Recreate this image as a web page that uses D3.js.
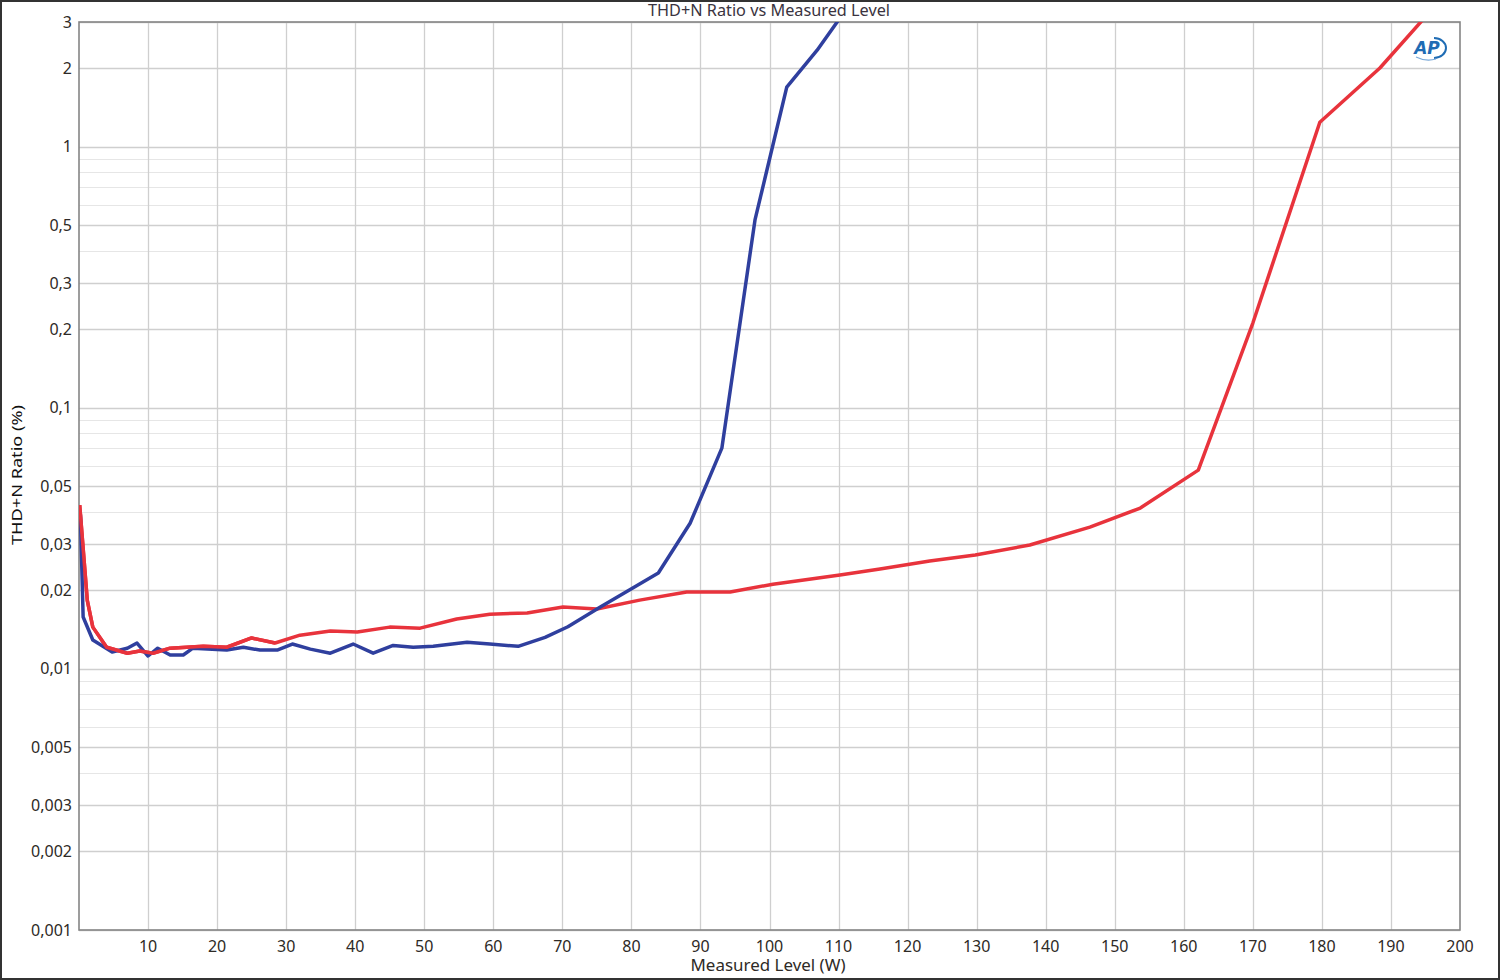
<!DOCTYPE html>
<html><head><meta charset="utf-8">
<script src="https://cdn.jsdelivr.net/npm/d3@7/dist/d3.min.js"></script>
<style>html,body{margin:0;padding:0;background:#fff}svg{display:block}</style>
</head><body>
<script>
// ---- data ----
const blueX = [0.2,0.6,2.0,4.8,7.0,8.4,10.0,11.4,13.2,15.1,16.5,21.4,23.8,26.2,28.7,30.9,33.5,36.4,39.7,42.6,45.5,48.4,51.3,56.2,59.5,63.6,67.5,70.8,75.5,80.2,83.9,88.5,93.1,97.9,102.5,106.9,109.8,111.5];
const blueY = [0.039,0.0158,0.0129,0.0116,0.0120,0.01256,0.0112,0.0120,0.0113,0.0113,0.0120,0.0118,0.0121,0.0118,0.0118,0.01245,0.0119,0.01148,0.01245,0.01148,0.0123,0.0121,0.0122,0.01265,0.01245,0.0122,0.0132,0.0145,0.01725,0.0204,0.0233,0.0361,0.070,0.524,1.69,2.34,3.0,3.5];
const redX = [0.1,1.2,2.0,4.0,7.0,8.8,10.7,13.2,18.0,21.4,25.0,28.4,32.0,36.4,40.3,45.0,49.4,54.7,59.5,64.9,70.1,75.0,81.2,88.0,94.3,100.5,110.2,116.0,123.2,129.8,137.7,146.4,153.7,162.1,170.0,179.7,188.4,194.8];
const redY = [0.0424,0.0183,0.01445,0.0121,0.01148,0.0117,0.01148,0.0120,0.0122,0.0121,0.01313,0.01256,0.01346,0.01397,0.01385,0.01445,0.01432,0.01552,0.0162,0.01636,0.01725,0.01695,0.01833,0.0197,0.0197,0.0211,0.0229,0.0241,0.0259,0.0273,0.0298,0.0349,0.0413,0.0577,0.211,1.24,2.0,3.1];
const xTicks = [10,20,30,40,50,60,70,80,90,100,110,120,130,140,150,160,170,180,190,200];
const yTicks = [3,2,1,0.5,0.3,0.2,0.1,0.05,0.03,0.02,0.01,0.005,0.003,0.002,0.001];
const yTickLabels = ["3","2","1","0,5","0,3","0,2","0,1","0,05","0,03","0,02","0,01","0,005","0,003","0,002","0,001"];
const yMinor = [0.9,0.8,0.7,0.6,0.4,0.09,0.08,0.07,0.06,0.04,0.009,0.008,0.007,0.006,0.004];
const title = "THD+N Ratio vs Measured Level";
const xLabel = "Measured Level (W)";
const yLabel = "THD+N Ratio (%)";

// ---- layout ----
const W = 1500, H = 980;
const L = 79, R = 1460, T = 22, B = 930;
const svg = d3.select("body").append("svg").attr("width", W).attr("height", H);
const font = "'Noto Sans', 'Open Sans', sans-serif";

const x = d3.scaleLinear().domain([0,200]).range([L,R]);
const y = d3.scaleLog().domain([0.001,3]).range([B,T]);

svg.append("rect").attr("x",1).attr("y",1).attr("width",W-2).attr("height",H-2)
  .attr("fill","#fff").attr("stroke","#333").attr("stroke-width",2);

// grid
const g = svg.append("g");
g.selectAll(".ymin").data(yMinor).join("line")
  .attr("x1",L).attr("x2",R).attr("y1",d=>Math.round(y(d))+0.5).attr("y2",d=>Math.round(y(d))+0.5)
  .attr("stroke","#e6e6e6").attr("stroke-width",1);
g.selectAll(".ymaj").data(yTicks).join("line")
  .attr("x1",L).attr("x2",R).attr("y1",d=>Math.round(y(d))+0.5).attr("y2",d=>Math.round(y(d))+0.5)
  .attr("stroke","#cfcfcf").attr("stroke-width",1.3);
g.selectAll(".xg").data(xTicks.slice(0,-1)).join("line")
  .attr("y1",T).attr("y2",B).attr("x1",d=>Math.round(x(d))+0.5).attr("x2",d=>Math.round(x(d))+0.5)
  .attr("stroke","#cfcfcf").attr("stroke-width",1.3);

// frame
svg.append("rect").attr("x",L).attr("y",T).attr("width",R-L).attr("height",B-T)
  .attr("fill","none").attr("stroke","#858585").attr("stroke-width",1.6);

// tick labels
svg.append("g").selectAll("text").data(yTicks).join("text")
  .attr("x",72).attr("y",d=>y(d)).attr("dy","0.35em").attr("text-anchor","end")
  .attr("font-family",font).attr("font-size",16).attr("fill","#2e2a26")
  .text((d,i)=>yTickLabels[i]);
svg.append("g").selectAll("text").data(xTicks).join("text")
  .attr("x",d=>x(d)).attr("y",952).attr("text-anchor","middle")
  .attr("font-family",font).attr("font-size",16).attr("fill","#2e2a26")
  .text(d=>d);

svg.append("text").attr("x",769).attr("y",16).attr("text-anchor","middle")
  .attr("font-family",font).attr("font-size",16).attr("fill","#3a3340")
  .attr("textLength",242).attr("lengthAdjust","spacingAndGlyphs").text(title);
svg.append("text").attr("x",768).attr("y",971).attr("text-anchor","middle")
  .attr("font-family",font).attr("font-size",16).attr("fill","#2e2a26")
  .attr("textLength",155).attr("lengthAdjust","spacingAndGlyphs").text(xLabel);
svg.append("text").attr("transform","translate(22,475) rotate(-90)").attr("text-anchor","middle")
  .attr("font-family",font).attr("font-size",15).attr("fill","#111")
  .attr("textLength",140).attr("lengthAdjust","spacingAndGlyphs").text(yLabel);

// clip
svg.append("clipPath").attr("id","clip").append("rect")
  .attr("x",L).attr("y",T).attr("width",R-L).attr("height",B-T);

const line = d3.line().x(d=>x(d[0])).y(d=>y(d[1]));
const plot = svg.append("g").attr("clip-path","url(#clip)");
plot.append("path").datum(redX.map((v,i)=>[v,redY[i]]))
  .attr("d",line).attr("fill","none").attr("stroke","#e8333c").attr("stroke-width",3.5)
  .attr("stroke-linejoin","round");
plot.append("path").datum(blueX.map((v,i)=>[v,blueY[i]]))
  .attr("d",line).attr("fill","none").attr("stroke","#2f3f9e").attr("stroke-width",3.5)
  .attr("stroke-linejoin","round");
plot.append("path").datum(redX.slice(0,12).map((v,i)=>[v,redY[i]]))
  .attr("d",line).attr("fill","none").attr("stroke","#e8333c").attr("stroke-width",3.5)
  .attr("stroke-linejoin","round");

// AP logo
const logo = svg.append("g").attr("transform","translate(1428,48)");
logo.append("text").attr("x",-1).attr("y",6).attr("text-anchor","middle")
  .attr("font-family","'DejaVu Sans', sans-serif").attr("font-weight","bold").attr("font-style","italic")
  .attr("font-size",17).attr("fill","#1f6cb4").text("AP");
logo.append("path").attr("d","M 6 -10 A 12 10 0 0 1 6 10").attr("fill","none").attr("stroke","#1f6cb4").attr("stroke-width",2);
logo.append("path").attr("d","M -12 9 Q -2 14 8 11").attr("fill","none").attr("stroke","#7aa9d8").attr("stroke-width",1.2);
</script>
</body></html>
